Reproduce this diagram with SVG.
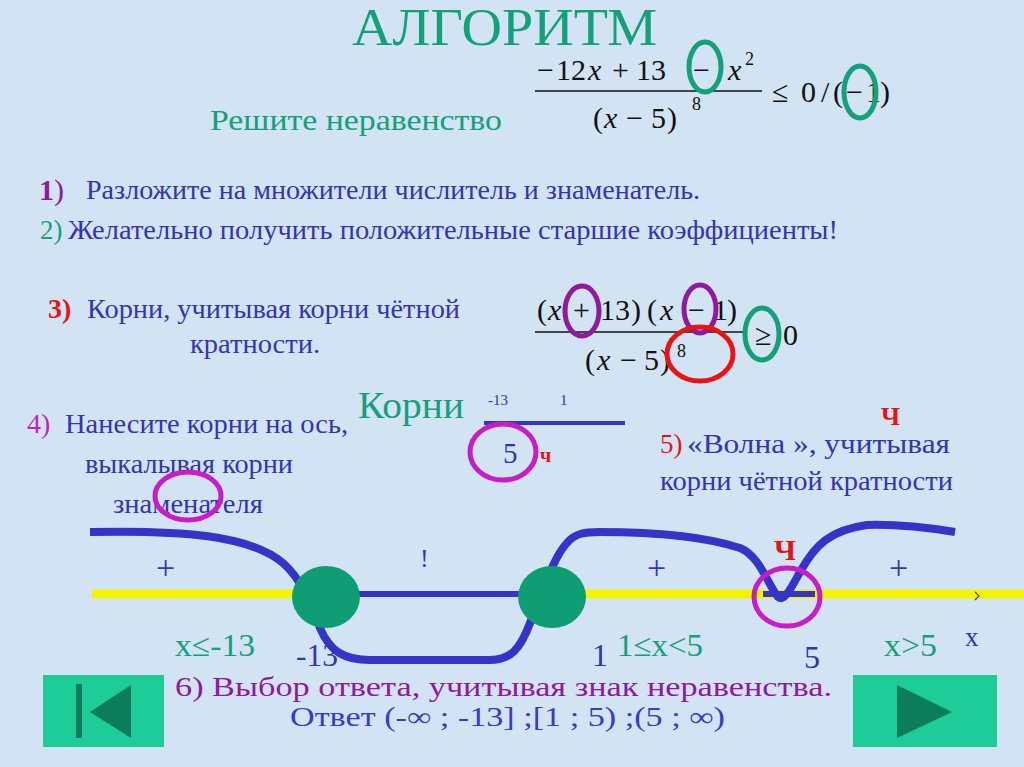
<svg xmlns="http://www.w3.org/2000/svg" width="1024" height="767" viewBox="0 0 1024 767">
<style>
text{font-family:"Liberation Serif","DejaVu Serif",serif}
.g{fill:#14a07a}
.b{fill:#3434b4}
.r{fill:#e81414}
.p{fill:#8e1a9e}
.m{fill:#c81cc8}
.math{fill:#111;font-size:30px}
.it{font-style:italic}
.ring{fill:none;stroke-width:5}
.gr{stroke:#14a07a}
.pr{stroke:#8e1a9e}
.rr{stroke:#e81414}
.mr{stroke:#c81cc8}
.btn{fill:#1ecc98}
.dk{fill:#0b7d5a}
</style>
<rect x="0" y="0" width="1024" height="767" fill="#d2e3f3"/>

<g id="title">
<text x="352" y="45" class="g" font-size="52" textLength="305" lengthAdjust="spacingAndGlyphs">АЛГОРИТМ</text>
</g>

<g id="task">
<text x="210" y="130" class="g" font-size="30" textLength="292" lengthAdjust="spacingAndGlyphs">Решите неравенство</text>
<g class="math">
<text y="80" x="537 556 571 588 612 636 651 693 728"><tspan>−12</tspan><tspan class="it">x</tspan><tspan>+13−</tspan><tspan class="it">x</tspan></text>
<text x="745" y="65" font-size="18">2</text>
<line x1="535" y1="91" x2="762" y2="91" stroke="#111" stroke-width="1.5"/>
<text y="128" x="593 604 626 651 667"><tspan>(</tspan><tspan class="it">x</tspan><tspan>−5)</tspan></text>
<text x="692" y="110" font-size="18">8</text>
<text y="102" x="772 801 821 833 846 866 880">≤0/(−1)</text>
</g>
<ellipse cx="705" cy="67" rx="16" ry="25" class="ring gr"/>
<ellipse cx="860" cy="92" rx="16" ry="26" class="ring gr"/>
</g>

<g id="step1">
<text x="39" y="200" font-size="30" font-weight="bold" class="p">1<tspan font-weight="normal">)</tspan></text>
<text x="86" y="199" font-size="28" class="b" textLength="614" lengthAdjust="spacingAndGlyphs">Разложите на множители числитель и знаменатель.</text>
</g>
<g id="step2">
<text x="40" y="239" font-size="27" class="g">2)</text>
<text x="68" y="239" font-size="28" class="b" textLength="770" lengthAdjust="spacingAndGlyphs">Желательно получить положительные старшие коэффициенты!</text>
</g>

<g id="step3">
<text x="48" y="318" font-size="28" font-weight="bold" class="r">3)</text>
<text x="87" y="318" font-size="28" class="b" textLength="373" lengthAdjust="spacingAndGlyphs">Корни, учитывая корни чётной</text>
<text x="190" y="353" font-size="28" class="b" textLength="130" lengthAdjust="spacingAndGlyphs">кратности.</text>
</g>

<g id="fraction2">
<g class="math">
<text y="320" x="537 548 573 600 615 631 647 660 688 713 727"><tspan>(</tspan><tspan class="it">x</tspan><tspan>+13)(</tspan><tspan class="it">x</tspan><tspan>−1)</tspan></text>
<line x1="535" y1="332" x2="747" y2="332" stroke="#111" stroke-width="1.5"/>
<text y="370" x="585 597 620 644 660"><tspan>(</tspan><tspan class="it">x</tspan><tspan>−5)</tspan></text>
<text x="677" y="357" font-size="18">8</text>
<text y="345" x="755 783">≥0</text>
</g>
<ellipse cx="582" cy="311" rx="17" ry="25" class="ring pr"/>
<ellipse cx="700" cy="309" rx="16" ry="24" class="ring pr"/>
<ellipse cx="700" cy="354" rx="33" ry="27" class="ring rr"/>
<ellipse cx="762" cy="334" rx="17" ry="26" class="ring gr"/>
</g>

<g id="roots">
<text x="358" y="418" font-size="37" class="g" textLength="106" lengthAdjust="spacingAndGlyphs">Корни</text>
<text x="488" y="405" font-size="15" class="b">-13</text>
<text x="560" y="405" font-size="15" class="b">1</text>
<line x1="484" y1="423" x2="625" y2="423" stroke="#3434c8" stroke-width="4"/>
<text x="503" y="463" font-size="29" class="b">5</text>
<ellipse cx="503" cy="452" rx="33" ry="28" class="ring mr"/>
<text x="540" y="462" font-size="20" font-weight="bold" class="r">ч</text>
</g>

<g id="step4">
<text x="27" y="433" font-size="28" class="m">4)</text>
<text x="65" y="433" font-size="28" class="b" textLength="283" lengthAdjust="spacingAndGlyphs">Нанесите корни на ось,</text>
<text x="85" y="473" font-size="28" class="b" textLength="208" lengthAdjust="spacingAndGlyphs">выкалывая корни</text>
<text x="113" y="513" font-size="28" class="b" textLength="150" lengthAdjust="spacingAndGlyphs">знаменателя</text>
<ellipse cx="188" cy="496" rx="33" ry="24" class="ring mr"/>
</g>

<g id="step5">
<text x="881" y="425" font-size="26" font-weight="bold" class="r">Ч</text>
<text x="660" y="453" font-size="27" class="r">5)</text>
<text x="687" y="453" font-size="27" class="b" textLength="263" lengthAdjust="spacingAndGlyphs">«Волна », учитывая</text>
<text x="660" y="490" font-size="27" class="b" textLength="293" lengthAdjust="spacingAndGlyphs">корни чётной кратности</text>
</g>

<g id="connectors">
<line x1="92" y1="594" x2="330" y2="594" stroke="#f4f400" stroke-width="9"/>
<line x1="550" y1="594" x2="1024" y2="594" stroke="#f4f400" stroke-width="9"/>
<line x1="330" y1="594" x2="552" y2="594" stroke="#3434c8" stroke-width="6"/>
<line x1="763" y1="594" x2="815" y2="594" stroke="#3434c8" stroke-width="6"/>
<polyline points="975,592 979,596 975,600" fill="none" stroke="#444" stroke-width="1.2"/>
<path d="M 90 532 C 180 530, 250 535, 283 563 C 300 578, 310 600, 320 628 C 330 652, 345 660, 370 660 L 490 660 C 510 660, 520 650, 530 623 C 545 585, 555 555, 567 543 C 575 533, 585 532, 600 532 C 650 532, 700 535, 740 548 C 760 556, 768 585, 778 597 C 784 602, 790 590, 800 572 C 815 545, 830 530, 867 525 C 900 524, 930 528, 955 532" fill="none" stroke="#3434c8" stroke-width="8"/>
</g>

<g id="point-m13">
<ellipse cx="326" cy="597" rx="34" ry="31" fill="#0f9e74"/>
</g>
<g id="point-1">
<ellipse cx="552" cy="597" rx="34" ry="31" fill="#0f9e74"/>
</g>
<g id="point-5">
<ellipse cx="787" cy="597" rx="33" ry="29" class="ring mr"/>
<text x="774" y="560" font-size="30" font-weight="bold" class="r">Ч</text>
</g>

<g id="axis-labels">
<text x="156" y="579" font-size="34" class="b">+</text>
<text x="647" y="579" font-size="34" class="b">+</text>
<text x="889" y="579" font-size="34" class="b">+</text>
<text x="420" y="567" font-size="26" class="b">!</text>
<text x="175" y="656" font-size="32" class="g" textLength="80" lengthAdjust="spacingAndGlyphs">x≤-13</text>
<text x="296" y="666" font-size="32" class="b" textLength="42" lengthAdjust="spacingAndGlyphs">-13</text>
<text x="592" y="666" font-size="32" class="b">1</text>
<text x="617" y="656" font-size="32" class="g" textLength="86" lengthAdjust="spacingAndGlyphs">1≤x&lt;5</text>
<text x="804" y="668" font-size="32" class="b">5</text>
<text x="884" y="656" font-size="32" class="g" textLength="53" lengthAdjust="spacingAndGlyphs">x&gt;5</text>
<text x="965" y="646" font-size="27" class="b">x</text>
</g>

<g id="step6">
<text x="175" y="696" font-size="27" class="p" textLength="657" lengthAdjust="spacingAndGlyphs">6) Выбор ответа, учитывая знак неравенства.</text>
<text x="290" y="726" font-size="27" fill="#3a3acc" textLength="435" lengthAdjust="spacingAndGlyphs">Ответ (-∞ ; -13] ;[1 ; 5) ;(5 ; ∞)</text>
</g>

<g id="btn-prev">
<rect x="43" y="675" width="121" height="72" class="btn"/>
<rect x="76" y="684" width="6" height="54" class="dk"/>
<polygon points="90,712 131,685 131,738" class="dk"/>
</g>
<g id="btn-next">
<rect x="853" y="675" width="144" height="72" class="btn"/>
<polygon points="897,685 952,712 897,738" class="dk"/>
</g>
</svg>
